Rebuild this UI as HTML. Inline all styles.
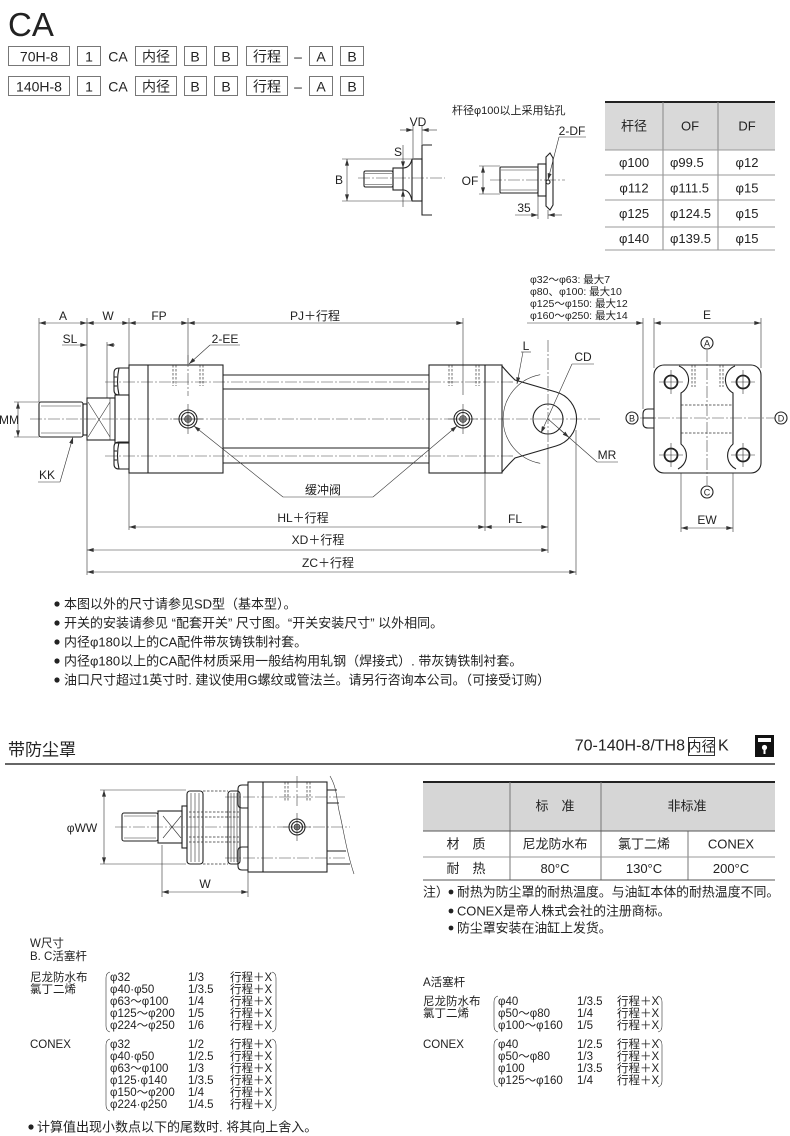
<!DOCTYPE html>
<html><head><meta charset="utf-8"><style>
html,body{margin:0;padding:0;background:#fff;}
svg{display:block;}
text{font-family:"Liberation Sans","Noto Sans CJK SC",sans-serif;fill:#222;}
.o{fill:none;stroke:#222;stroke-width:1.1}
.t{fill:none;stroke:#333;stroke-width:.6}
.c{fill:none;stroke:#444;stroke-width:.6;stroke-dasharray:12 2 2 2}
.h{fill:none;stroke:#333;stroke-width:.7;stroke-dasharray:2.5 1.5}
.ab{marker-start:url(#ar);marker-end:url(#ar)}
.ae{marker-end:url(#ar)}
.m{text-anchor:middle}
.v{dominant-baseline:central}
</style></head><body>
<svg width="790" height="1136" viewBox="0 0 790 1136" xmlns="http://www.w3.org/2000/svg">
<defs>
<marker id="ar" viewBox="0 0 10 6" refX="10" refY="3" markerWidth="7" markerHeight="4" orient="auto-start-reverse" markerUnits="userSpaceOnUse"><path d="M0,0 L10,3 L0,6 z" fill="#333"/></marker>
</defs>

<!-- Header -->
<text x="8" y="36" font-size="33" fill="#111">CA</text>
<g fill="#fff" stroke="#777" stroke-width="1">
<rect x="8.5" y="46.5" width="61" height="19"/><rect x="77.5" y="46.5" width="23" height="19"/>
<rect x="135.5" y="46.5" width="41" height="19"/><rect x="184.5" y="46.5" width="22" height="19"/>
<rect x="214.5" y="46.5" width="23" height="19"/><rect x="246.5" y="46.5" width="41" height="19"/>
<rect x="309.5" y="46.5" width="23" height="19"/><rect x="340.5" y="46.5" width="23" height="19"/>
<rect x="8.5" y="76.5" width="61" height="19"/><rect x="77.5" y="76.5" width="23" height="19"/>
<rect x="135.5" y="76.5" width="41" height="19"/><rect x="184.5" y="76.5" width="22" height="19"/>
<rect x="214.5" y="76.5" width="23" height="19"/><rect x="246.5" y="76.5" width="41" height="19"/>
<rect x="309.5" y="76.5" width="23" height="19"/><rect x="340.5" y="76.5" width="23" height="19"/>
</g>
<g font-size="14" class="m v">
<text x="39" y="56.5" class="m v">70H-8</text><text x="89" y="56.5" class="m v">1</text><text x="118" y="56.5" class="m v">CA</text>
<text x="156" y="56.5" class="m v">内径</text><text x="195" y="56.5" class="m v">B</text><text x="226" y="56.5" class="m v">B</text>
<text x="267" y="56.5" class="m v">行程</text><text x="298" y="56.5" class="m v">–</text><text x="321" y="56.5" class="m v">A</text><text x="352" y="56.5" class="m v">B</text>
<text x="39" y="86.5" class="m v">140H-8</text><text x="89" y="86.5" class="m v">1</text><text x="118" y="86.5" class="m v">CA</text>
<text x="156" y="86.5" class="m v">内径</text><text x="195" y="86.5" class="m v">B</text><text x="226" y="86.5" class="m v">B</text>
<text x="267" y="86.5" class="m v">行程</text><text x="298" y="86.5" class="m v">–</text><text x="321" y="86.5" class="m v">A</text><text x="352" y="86.5" class="m v">B</text>
</g>

<!-- Top small details -->
<text x="452" y="111" font-size="11" class="v">杆径φ100以上采用钻孔</text>
<!-- left detail -->
<line x1="358" y1="178" x2="445" y2="178" class="c"/>
<rect x="364" y="171" width="29" height="16" rx="1.5" class="o"/>
<path d="M365 173.5H392M365 184.5H392" class="t"/>
<rect x="393" y="168" width="10" height="22" class="o"/>
<path d="M403 168Q410 168 412 159M403 190Q410 190 412 201" class="o"/>
<rect x="412" y="159" width="10" height="42" class="o"/>
<path d="M432 145H422V215H432" class="o"/>
<line x1="347" y1="159" x2="347" y2="201" class="t ab"/>
<path d="M342 159H411M342 201H411" class="t"/>
<text x="339" y="180" font-size="12" class="m v">B</text>
<line x1="403" y1="145" x2="403" y2="168" class="t ae"/>
<line x1="403" y1="207" x2="403" y2="190" class="t ae"/>
<text x="398" y="152" font-size="12" class="m v">S</text>
<line x1="400" y1="130" x2="413" y2="130" class="t ae"/>
<line x1="437" y1="130" x2="422" y2="130" class="t ae"/>
<path d="M413 125V158M422 125V144" class="t"/>
<text x="418" y="122" font-size="12" class="m v">VD</text>
<!-- right detail -->
<line x1="490" y1="180" x2="565" y2="180" class="c"/>
<rect x="500" y="167" width="38" height="26" rx="1" class="o"/>
<path d="M501 170H537M501 190H537" class="t"/>
<rect x="538" y="164" width="8" height="32" class="o"/>
<path d="M546 157L550 153L553 158V205L550 210L546 206Z" class="o"/>
<circle cx="548" cy="182" r="2" class="o"/>
<line x1="483" y1="166" x2="483" y2="194" class="t ab"/>
<path d="M479 166H500M479 194H500" class="t"/>
<text x="470" y="181" font-size="12" class="m v">OF</text>
<text x="572" y="131" font-size="12" class="m v">2-DF</text>
<line x1="559" y1="137" x2="586" y2="137" class="t"/>
<line x1="559" y1="137" x2="548" y2="180" class="t ae"/>
<path d="M538 196V219M548 210V219" class="t"/>
<line x1="515" y1="215" x2="538" y2="215" class="t ae"/>
<line x1="562" y1="215" x2="548" y2="215" class="t ae"/>
<text x="524" y="208" font-size="12" class="m v">35</text>

<!-- Top-right table -->
<rect x="605" y="102" width="170" height="48" fill="#d9d9d9"/>
<line x1="605" y1="102" x2="775" y2="102" stroke="#222" stroke-width="2"/>
<path d="M663 102V250M718 102V250" stroke="#888" stroke-width="1" fill="none"/>
<path d="M605 150H775M605 175H775M605 200H775M605 227H775M605 250H775" stroke="#999" stroke-width="1" fill="none"/>
<g font-size="13">
<text x="634" y="126" class="m v">杆径</text><text x="690" y="126" class="m v">OF</text><text x="747" y="126" class="m v">DF</text>
<text x="634" y="162.5" class="m v">φ100</text><text x="670" y="162.5" class="v">φ99.5</text><text x="747" y="162.5" class="m v">φ12</text>
<text x="634" y="188" class="m v">φ112</text><text x="670" y="188" class="v">φ111.5</text><text x="747" y="188" class="m v">φ15</text>
<text x="634" y="213.5" class="m v">φ125</text><text x="670" y="213.5" class="v">φ124.5</text><text x="747" y="213.5" class="m v">φ15</text>
<text x="634" y="238.5" class="m v">φ140</text><text x="670" y="238.5" class="v">φ139.5</text><text x="747" y="238.5" class="m v">φ15</text>
</g>

<!-- Main drawing -->
<g font-size="10.5">
<text x="530" y="280" class="v">φ32～φ63: 最大7</text>
<text x="530" y="292" class="v">φ80、φ100: 最大10</text>
<text x="530" y="304" class="v">φ125～φ150: 最大12</text>
<text x="530" y="316" class="v">φ160～φ250: 最大14</text>
</g>
<line x1="527" y1="323" x2="643" y2="323" class="t ae"/>
<!-- top dims -->
<line x1="39" y1="323" x2="87" y2="323" class="t ab"/>
<line x1="87" y1="323" x2="129" y2="323" class="t ab"/>
<line x1="129" y1="323" x2="188" y2="323" class="t ab"/>
<line x1="188" y1="323" x2="463" y2="323" class="t ab"/>
<path d="M39 318V402M87 318V575M129 318V530M188 318V364M463 318V395" class="t"/>
<g font-size="12">
<text x="63" y="316" class="m v">A</text><text x="108" y="316" class="m v">W</text><text x="159" y="316" class="m v">FP</text>
<text x="315" y="316" class="m v">PJ＋行程</text>
<text x="70" y="339" class="m v">SL</text>
<text x="225" y="339" class="m v">2-EE</text>
<text x="-1" y="420" class="v">MM</text>
<text x="47" y="475" class="m v">KK</text>
<text x="323" y="490" class="m v">缓冲阀</text>
<text x="303" y="518" class="m v">HL＋行程</text>
<text x="318" y="540" class="m v">XD＋行程</text>
<text x="328" y="563" class="m v">ZC＋行程</text>
<text x="515" y="519" class="m v">FL</text>
<text x="526" y="346" class="m v">L</text>
<text x="583" y="357" class="m v">CD</text>
<text x="607" y="455" class="m v">MR</text>
<text x="707" y="315" class="m v">E</text>
<text x="707" y="520" class="m v">EW</text>
</g>
<line x1="62" y1="345" x2="87" y2="345" class="t ae"/>
<line x1="115" y1="345" x2="107" y2="345" class="t ae"/>
<line x1="107" y1="342" x2="107" y2="398" class="t"/>
<line x1="210" y1="345" x2="240" y2="345" class="t"/>
<line x1="210" y1="345" x2="189" y2="364" class="t ae"/>
<!-- centerlines -->
<line x1="30" y1="419" x2="600" y2="419" class="c"/>
<line x1="105" y1="382" x2="515" y2="382" class="c"/>
<line x1="105" y1="456" x2="515" y2="456" class="c"/>
<!-- rod -->
<rect x="39" y="402" width="44" height="35" rx="2" class="o"/>
<path d="M41 406H81M41 433H81" class="t"/>
<rect x="83" y="404" width="4" height="31" class="o"/>
<rect x="87" y="398" width="28" height="42" class="o"/>
<path d="M88 402L110 437M88 437L110 402M110 398V440" class="t"/>
<rect x="115" y="395" width="14" height="48" class="o"/>
<!-- nuts -->
<path d="M129 368H119Q114 368 114 373V390Q114 395 119 395H129M119 368Q116 381.5 119 395M114 377H117M114 386H117" class="o"/>
<path d="M129 442H119Q114 442 114 447V464Q114 469 119 469H129M119 442Q116 455.5 119 469M114 451H117M114 460H117" class="o"/>
<!-- MM, KK -->
<line x1="18" y1="402" x2="18" y2="437" class="t ab"/>
<path d="M14 402H39M14 437H39" class="t"/>
<line x1="38" y1="482" x2="60" y2="482" class="t"/>
<line x1="60" y1="482" x2="73" y2="437" class="t ae"/>
<!-- head cap -->
<rect x="129" y="365" width="94" height="108" class="o"/>
<line x1="148" y1="365" x2="148" y2="473" class="o"/>
<path d="M173 365V386M176 365V386M200 365V386M203 365V386" class="h"/>
<line x1="188" y1="355" x2="188" y2="396" class="c"/>
<circle cx="188" cy="419" r="9" class="o"/><circle cx="188" cy="419" r="6.5" class="o"/><circle cx="188" cy="419" r="3.5" fill="#888" stroke="#222" stroke-width=".6"/>
<path d="M188 404V434M173 419H203" class="t"/>
<!-- tube/tie rods -->
<path d="M223 375H429M223 389H429M223 448H429M223 463H429" class="o"/>
<!-- cap end -->
<rect x="429" y="365" width="73" height="108" class="o"/>
<line x1="485" y1="365" x2="485" y2="473" class="o"/>
<path d="M449 365V386M452 365V386M476 365V386M479 365V386" class="h"/>
<circle cx="463" cy="419" r="9" class="o"/><circle cx="463" cy="419" r="6.5" class="o"/><circle cx="463" cy="419" r="3.5" fill="#888" stroke="#222" stroke-width=".6"/>
<path d="M463 404V434M448 419H478" class="t"/>
<!-- cushion valve leaders -->
<line x1="283" y1="497" x2="373" y2="497" class="t"/>
<line x1="283" y1="497" x2="194" y2="426" class="t ae"/>
<line x1="373" y1="497" x2="457" y2="426" class="t ae"/>
<!-- clevis -->
<path d="M502 366Q507 372 515 380L556 392A28 28 0 0 1 556 446L515 458Q507 466 502 472" class="o"/>
<circle cx="548" cy="419" r="15" class="o"/>
<path d="M540.2 374.7A45 45 0 0 0 540.2 463.3" class="t"/>
<line x1="548" y1="340" x2="548" y2="444" class="c"/>
<line x1="521" y1="352" x2="531" y2="352" class="t"/>
<line x1="523" y1="352" x2="517" y2="384" class="t ae"/>
<line x1="572" y1="364" x2="594" y2="364" class="t"/>
<line x1="572" y1="364" x2="541" y2="433" class="t ae"/>
<line x1="597" y1="462" x2="618" y2="462" class="t"/>
<line x1="597" y1="462" x2="548" y2="419" class="t"/>
<line x1="560" y1="429.5" x2="569" y2="437.5" class="t ae"/>
<!-- bottom dims -->
<path d="M485 473V531M548 444V553M576 430V575" class="t"/>
<line x1="485" y1="527" x2="548" y2="527" class="t ab"/>
<line x1="129" y1="527" x2="485" y2="527" class="t ab"/>
<line x1="87" y1="550" x2="548" y2="550" class="t ab"/>
<line x1="87" y1="572" x2="576" y2="572" class="t ab"/>

<!-- side view -->
<path d="M654 318V368M761 318V368M643 318V409" class="t"/>
<line x1="654" y1="323" x2="761" y2="323" class="t ab"/>
<rect x="654" y="365" width="107" height="108" rx="10" class="o"/>
<path d="M679 366A15 15 0 0 1 681 393V444A15 15 0 0 1 678 469" class="o"/>
<path d="M735 366A15 15 0 0 0 733 393V444A15 15 0 0 0 736 469" class="o"/>
<path d="M681 405H733M681 433H733M692 365V387M695 365V387M720 365V387M723 365V387" class="h"/>
<line x1="707" y1="350" x2="707" y2="485" class="c"/>
<line x1="640" y1="418" x2="775" y2="418" class="c"/>
<g class="o">
<circle cx="671" cy="382" r="6.5" stroke-width="1.8"/><circle cx="743" cy="382" r="6.5" stroke-width="1.8"/>
<circle cx="671" cy="455" r="6.5" stroke-width="1.8"/><circle cx="743" cy="455" r="6.5" stroke-width="1.8"/>
</g>
<path d="M671 370V394M659 382H683M743 370V394M731 382H755M671 443V467M659 455H683M743 443V467M731 455H755" class="t"/>
<path d="M654 409H648Q643 409 643 414V423Q643 428 648 428H654M643 418H654" class="o"/>
<g font-size="9" class="o" stroke-width=".8">
<circle cx="707" cy="343" r="6"/><circle cx="632" cy="418" r="6"/><circle cx="781" cy="418" r="6"/><circle cx="707" cy="492" r="6"/>
</g>
<g font-size="9">
<text x="707" y="343.5" class="m v">A</text><text x="632" y="418.5" class="m v">B</text><text x="781" y="418.5" class="m v">D</text><text x="707" y="492.5" class="m v">C</text>
</g>
<path d="M681 473V532M733 473V532" class="t"/>
<line x1="681" y1="528" x2="733" y2="528" class="t ab"/>

<!-- Notes -->
<g fill="#222"><circle cx="57" cy="604" r="2.6"/><circle cx="57" cy="623" r="2.6"/><circle cx="57" cy="642" r="2.6"/><circle cx="57" cy="661" r="2.6"/><circle cx="57" cy="680" r="2.6"/></g>
<g font-size="13">
<text x="64" y="604" class="v">本图以外的尺寸请参见SD型（基本型）。</text>
<text x="64" y="623" class="v">开关的安装请参见 “配套开关” 尺寸图。“开关安装尺寸” 以外相同。</text>
<text x="64" y="642" class="v">内径φ180以上的CA配件带灰铸铁制衬套。</text>
<text x="64" y="661" class="v">内径φ180以上的CA配件材质采用一般结构用轧钢（焊接式）. 带灰铸铁制衬套。</text>
<text x="64" y="680" class="v">油口尺寸超过1英寸时. 建议使用G螺纹或管法兰。请另行咨询本公司。（可接受订购）</text>
</g>

<!-- Dust cover section -->
<text x="8" y="750" font-size="17" class="v">带防尘罩</text>
<line x1="5" y1="764" x2="775" y2="764" stroke="#333" stroke-width="1.5"/>
<text x="685" y="746" font-size="16" text-anchor="end" class="v">70-140H-8/TH8</text>
<rect x="688.5" y="737.5" width="26" height="18" fill="none" stroke="#333" stroke-width="1"/>
<text x="701.5" y="746.5" font-size="14" class="m v">内径</text>
<text x="718" y="746" font-size="16" class="v">K</text>
<rect x="755" y="735" width="19" height="22" fill="#111"/>
<rect x="758" y="738" width="13" height="4" fill="#fff"/>
<circle cx="764.5" cy="747.5" r="2.6" fill="#fff"/>
<rect x="763.5" y="748" width="2" height="6" fill="#fff"/>

<line x1="115" y1="827" x2="350" y2="827" class="c"/>
<line x1="225" y1="797" x2="345" y2="797" class="c"/>
<line x1="225" y1="858" x2="345" y2="858" class="c"/>
<rect x="122" y="813" width="36" height="28" rx="2" class="o"/>
<path d="M124 816H156M124 838H156" class="t"/>
<rect x="158" y="811" width="24" height="32" class="o"/>
<path d="M163 816L181 838M163 838L181 816" class="t"/>
<rect x="182" y="806" width="5" height="42" class="o"/>
<rect x="187" y="791" width="16" height="73" rx="3" class="o"/>
<path d="M191 793V862M195 793V862M199 793V862" class="t"/>
<rect x="228" y="791" width="12" height="73" rx="3" class="o"/>
<path d="M231 793V862M234 793V862M237 793V862" class="t"/>
<path d="M203 791H228M203 864H228M189 812H239M189 817H239M189 837H239M189 842H239" class="h"/>
<path d="M248 785H242Q238 785 238 789V804Q238 808 242 808H248" class="o"/>
<path d="M248 847H242Q238 847 238 851V866Q238 870 242 870H248" class="o"/>
<rect x="248" y="782" width="79" height="90" class="o"/>
<line x1="263" y1="782" x2="263" y2="872" class="o"/>
<path d="M285 782V802M288 782V802M307 782V802M310 782V802" class="h"/>
<line x1="297" y1="776" x2="297" y2="808" class="c"/>
<circle cx="297" cy="827" r="8" class="o"/><circle cx="297" cy="827" r="5.5" class="o"/><circle cx="297" cy="827" r="3" fill="#888" stroke="#222" stroke-width=".6"/>
<path d="M297 813V841M283 827H311" class="t"/>
<path d="M327 790H337M327 803H339M327 851H346M327 864H350" class="o"/>
<path d="M330 776C338 790 336 800 340 815C344 832 346 850 354 874" class="t"/>
<line x1="104" y1="790" x2="104" y2="864" class="t ab"/>
<path d="M100 790H186M100 864H186" class="t"/>
<text x="82" y="828" font-size="12" class="m v">φWW</text>
<path d="M162 845V897M248 872V897" class="t"/>
<line x1="162" y1="892" x2="248" y2="892" class="t ab"/>
<text x="205" y="884" font-size="12" class="m v">W</text>

<!-- Bottom-right table -->
<rect x="423" y="782" width="352" height="49" fill="#d6d6d6"/>
<line x1="423" y1="782" x2="775" y2="782" stroke="#222" stroke-width="2"/>
<path d="M510 782V880M601 782V880M688 831V880" stroke="#777" stroke-width="1" fill="none"/>
<path d="M423 831H775M423 880H775" stroke="#555" stroke-width="1" fill="none"/>
<path d="M423 857H775" stroke="#999" stroke-width="1" fill="none"/>
<g font-size="13">
<text x="555" y="806" class="m v">标　准</text><text x="687" y="806" class="m v">非标准</text>
<text x="466" y="844" class="m v">材　质</text><text x="555" y="844" class="m v">尼龙防水布</text><text x="644" y="844" class="m v">氯丁二烯</text><text x="731" y="844" class="m v">CONEX</text>
<text x="466" y="868.5" class="m v">耐　热</text><text x="555" y="868.5" class="m v">80°C</text><text x="644" y="868.5" class="m v">130°C</text><text x="731" y="868.5" class="m v">200°C</text>
</g>
<g font-size="12.9">
<text x="423" y="892" class="v">注）</text>
<text x="457" y="892" class="v">耐热为防尘罩的耐热温度。与油缸本体的耐热温度不同。</text>
<text x="457" y="911" class="v">CONEX是帝人株式会社的注册商标。</text>
<text x="457" y="928" class="v">防尘罩安装在油缸上发货。</text>
</g>
<g fill="#222"><circle cx="451" cy="892" r="2.4"/><circle cx="451" cy="911" r="2.4"/><circle cx="451" cy="928" r="2.4"/></g>

<!-- W table -->
<g font-size="11.5">
<text x="30" y="944" class="v">W尺寸</text>
<text x="30" y="957" class="v">B. C活塞杆</text>
<text x="30" y="978" class="v">尼龙防水布</text>
<text x="30" y="990" class="v">氯丁二烯</text>
<text x="110" y="978" class="v">φ32</text><text x="188" y="978" class="v">1/3</text><text x="230" y="978" class="v">行程＋X</text>
<text x="110" y="990" class="v">φ40·φ50</text><text x="188" y="990" class="v">1/3.5</text><text x="230" y="990" class="v">行程＋X</text>
<text x="110" y="1002" class="v">φ63～φ100</text><text x="188" y="1002" class="v">1/4</text><text x="230" y="1002" class="v">行程＋X</text>
<text x="110" y="1014" class="v">φ125～φ200</text><text x="188" y="1014" class="v">1/5</text><text x="230" y="1014" class="v">行程＋X</text>
<text x="110" y="1026" class="v">φ224～φ250</text><text x="188" y="1026" class="v">1/6</text><text x="230" y="1026" class="v">行程＋X</text>
<text x="30" y="1045" class="v">CONEX</text>
<text x="110" y="1045" class="v">φ32</text><text x="188" y="1045" class="v">1/2</text><text x="230" y="1045" class="v">行程＋X</text>
<text x="110" y="1057" class="v">φ40·φ50</text><text x="188" y="1057" class="v">1/2.5</text><text x="230" y="1057" class="v">行程＋X</text>
<text x="110" y="1069" class="v">φ63～φ100</text><text x="188" y="1069" class="v">1/3</text><text x="230" y="1069" class="v">行程＋X</text>
<text x="110" y="1081" class="v">φ125·φ140</text><text x="188" y="1081" class="v">1/3.5</text><text x="230" y="1081" class="v">行程＋X</text>
<text x="110" y="1093" class="v">φ150～φ200</text><text x="188" y="1093" class="v">1/4</text><text x="230" y="1093" class="v">行程＋X</text>
<text x="110" y="1105" class="v">φ224·φ250</text><text x="188" y="1105" class="v">1/4.5</text><text x="230" y="1105" class="v">行程＋X</text>
</g>
<path d="M110 972Q106 973 106 978V1026Q106 1031 110 1032M272 972Q276 973 276 978V1026Q276 1031 272 1032" class="t" stroke-width=".8"/>
<path d="M110 1039Q106 1040 106 1045V1105Q106 1110 110 1111M272 1039Q276 1040 276 1045V1105Q276 1110 272 1111" class="t" stroke-width=".8"/>
<circle cx="31" cy="1127" r="2.6" fill="#222"/>
<text x="37" y="1127" font-size="13" class="v">计算值出现小数点以下的尾数时. 将其向上舍入。</text>

<!-- A table -->
<g font-size="11.5">
<text x="423" y="983" class="v">A活塞杆</text>
<text x="423" y="1002" class="v">尼龙防水布</text>
<text x="423" y="1014" class="v">氯丁二烯</text>
<text x="498" y="1002" class="v">φ40</text><text x="577" y="1002" class="v">1/3.5</text><text x="617" y="1002" class="v">行程＋X</text>
<text x="498" y="1014" class="v">φ50～φ80</text><text x="577" y="1014" class="v">1/4</text><text x="617" y="1014" class="v">行程＋X</text>
<text x="498" y="1026" class="v">φ100～φ160</text><text x="577" y="1026" class="v">1/5</text><text x="617" y="1026" class="v">行程＋X</text>
<text x="423" y="1045" class="v">CONEX</text>
<text x="498" y="1045" class="v">φ40</text><text x="577" y="1045" class="v">1/2.5</text><text x="617" y="1045" class="v">行程＋X</text>
<text x="498" y="1057" class="v">φ50～φ80</text><text x="577" y="1057" class="v">1/3</text><text x="617" y="1057" class="v">行程＋X</text>
<text x="498" y="1069" class="v">φ100</text><text x="577" y="1069" class="v">1/3.5</text><text x="617" y="1069" class="v">行程＋X</text>
<text x="498" y="1081" class="v">φ125～φ160</text><text x="577" y="1081" class="v">1/4</text><text x="617" y="1081" class="v">行程＋X</text>
</g>
<path d="M498 996Q494 997 494 1002V1026Q494 1031 498 1032M658 996Q662 997 662 1002V1026Q662 1031 658 1032" class="t" stroke-width=".8"/>
<path d="M498 1039Q494 1040 494 1045V1081Q494 1086 498 1087M658 1039Q662 1040 662 1045V1081Q662 1086 658 1087" class="t" stroke-width=".8"/>
</svg>
</body></html>
